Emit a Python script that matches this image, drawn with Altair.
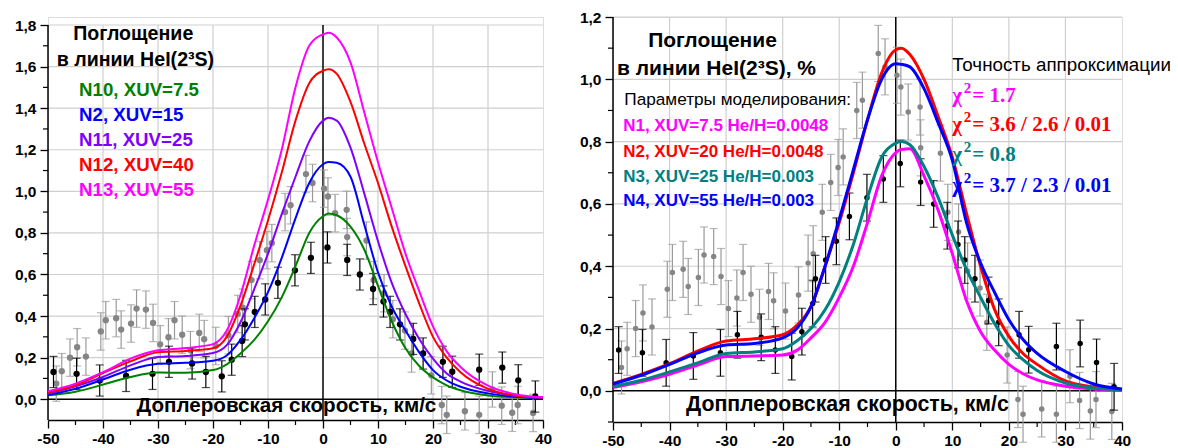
import altair as alt
import pandas as pd

# ------------------------------------------------------------------ data
curve_x = [-50, -45, -40, -35, -30, -25, -20, -17.5, -15, -12.5, -10, -7.5, -5, -2.5,
           0, 1, 2.5, 5, 7.5, 10, 12.5, 15, 17.5, 20, 22.5, 25, 30, 35, 40]

# left panel models
left_names = ["N10, XUV=7.5", "N2, XUV=15", "N11, XUV=25", "N12, XUV=40", "N13, XUV=55"]
left_colors = ["#008000", "#0000ff", "#8000ff", "#ff0000", "#ff00ff"]
left_n10 = [0.019, 0.036, 0.070, 0.107, 0.128, 0.127, 0.140, 0.168, 0.220, 0.285, 0.375, 0.490, 0.640, 0.800,
            0.880, 0.893, 0.885, 0.830, 0.720, 0.545, 0.375, 0.245, 0.160, 0.105, 0.067, 0.043, 0.018, 0.009, 0.006]
left_n2 = [0.020, 0.050, 0.095, 0.142, 0.170, 0.175, 0.185, 0.210, 0.285, 0.390, 0.515, 0.680, 0.870, 1.040,
           1.130, 1.141, 1.137, 1.070, 0.840, 0.610, 0.445, 0.330, 0.225, 0.140, 0.090, 0.060, 0.028, 0.012, 0.006]
left_n11 = [0.027, 0.062, 0.107, 0.163, 0.203, 0.208, 0.222, 0.260, 0.370, 0.530, 0.700, 0.890, 1.070, 1.240,
            1.340, 1.354, 1.340, 1.210, 0.990, 0.760, 0.560, 0.410, 0.290, 0.195, 0.124, 0.085, 0.040, 0.016, 0.007]
left_n12 = [0.032, 0.067, 0.126, 0.182, 0.226, 0.232, 0.245, 0.300, 0.450, 0.650, 0.860, 1.090, 1.340, 1.520,
            1.580, 1.587, 1.565, 1.430, 1.230, 1.040, 0.830, 0.640, 0.460, 0.300, 0.200, 0.130, 0.050, 0.018, 0.008]
left_n13 = [0.038, 0.075, 0.130, 0.195, 0.235, 0.246, 0.265, 0.330, 0.500, 0.740, 0.960, 1.200, 1.500, 1.700,
            1.755, 1.763, 1.740, 1.620, 1.380, 1.140, 0.920, 0.700, 0.520, 0.350, 0.230, 0.155, 0.065, 0.024, 0.009]
left_series = [left_n10, left_n2, left_n11, left_n12, left_n13]

# right panel models
right_names = ["N1, XUV=7.5 He/H=0.0048", "N2, XUV=20 He/H=0.0048",
               "N3, XUV=25 He/H=0.003", "N4, XUV=55 He/H=0.003"]
right_colors = ["#ff00ff", "#ff0000", "#008080", "#0000ff"]
right_chi2 = ["= 1.7", "= 3.6 / 2.6  / 0.01", "= 0.8", "=  3.7 / 2.3 / 0.01"]
right_n1 = [0.011, 0.029, 0.053, 0.083, 0.110, 0.112, 0.115, 0.130, 0.170, 0.220, 0.300, 0.400, 0.540, 0.690,
            0.765, 0.775, 0.777, 0.690, 0.580, 0.440, 0.290, 0.190, 0.130, 0.085, 0.055, 0.035, 0.015, 0.006, 0.002]
right_n2 = [0.024, 0.053, 0.087, 0.128, 0.160, 0.167, 0.180, 0.210, 0.270, 0.400, 0.540, 0.700, 0.870, 1.020,
            1.095, 1.100, 1.080, 1.000, 0.880, 0.750, 0.570, 0.400, 0.260, 0.175, 0.120, 0.085, 0.032, 0.012, 0.004]
right_n3 = [0.014, 0.034, 0.061, 0.090, 0.120, 0.125, 0.135, 0.160, 0.200, 0.260, 0.350, 0.470, 0.620, 0.750,
            0.795, 0.800, 0.790, 0.720, 0.620, 0.500, 0.390, 0.300, 0.215, 0.145, 0.100, 0.065, 0.025, 0.009, 0.003]
right_n4 = [0.022, 0.050, 0.085, 0.122, 0.147, 0.152, 0.170, 0.200, 0.270, 0.400, 0.550, 0.710, 0.870, 1.000,
            1.050, 1.048, 1.040, 0.970, 0.860, 0.740, 0.540, 0.410, 0.315, 0.228, 0.165, 0.120, 0.062, 0.022, 0.006]
right_series = [right_n1, right_n2, right_n3, right_n4]

# observations (gray set)
gray_x = [-48.5, -47.5, -46.0, -44.7, -43.1, -40.4, -39.5, -37.6, -36.7, -34.9, -33.9, -32.2, -30.9,
          -29.6, -28.1, -27.0, -25.6, -24.1, -22.5, -21.6, -19.5, -17.2, -15.5, -14.6, -13.0, -11.5,
          -10.2, -9.3, -6.9, -5.9, -3.1, -1.9, 0.2, 0.9, 2.2, 4.3, 4.4, 7.9, 9.2, 11.1, 12.7, 14.9,
          16.1, 19.7, 21.6, 22.5, 25.8, 28.4, 30.8, 32.5, 34.4, 35.4, 38.2]
gray_y = [0.075, 0.135, 0.200, 0.250, 0.205, 0.326, 0.380, 0.390, 0.335, 0.364, 0.436, 0.431, 0.367,
          0.264, 0.298, 0.380, 0.310, 0.236, 0.319, 0.289, 0.256, 0.308, 0.410, 0.440, 0.573, 0.669,
          0.717, 0.751, 0.900, 0.933, 1.083, 1.040, 1.013, 0.975, 0.895, 0.911, 0.780, 0.763, 0.573,
          0.510, 0.385, 0.330, 0.220, 0.115, -0.028, -0.075, -0.058, -0.075, 0.047, -0.031, -0.065,
          -0.028, -0.066]
gray_err = [0.085, 0.085, 0.09, 0.09, 0.09, 0.09, 0.09, 0.09, 0.09, 0.09, 0.09, 0.09, 0.09,
            0.09, 0.09, 0.09, 0.09, 0.09, 0.09, 0.09, 0.09, 0.09, 0.09, 0.09, 0.09, 0.09,
            0.09, 0.09, 0.09, 0.09, 0.09, 0.09, 0.09, 0.09, 0.09, 0.09, 0.09, 0.09, 0.09,
            0.09, 0.09, 0.09, 0.09, 0.09, 0.09, 0.09, 0.09, 0.09, 0.085, 0.09, 0.09, 0.09, 0.09]

# observations (black set)
black_x = [-49.0, -44.8, -40.6, -35.8, -31.0, -28.0, -23.8, -21.3, -18.4, -16.6, -14.7, -14.2, -12.4,
           -10.5, -8.2, -5.1, -2.2, 0.8, 4.4, 6.7, 9.1, 11.0, 12.2, 14.0, 16.4, 18.2, 21.8, 23.5,
           28.4, 32.6, 35.5, 38.6]
black_y = [0.131, 0.122, 0.090, 0.112, 0.122, 0.180, 0.172, 0.131, 0.110, 0.190, 0.280, 0.360, 0.420,
           0.480, 0.560, 0.620, 0.680, 0.730, 0.670, 0.600, 0.530, 0.470, 0.420, 0.360, 0.290, 0.220,
           0.180, 0.132, 0.142, 0.152, 0.091, 0.013]
black_err = [0.075] * len(black_x)

x_ticks = [-50, -40, -30, -20, -10, 0, 10, 20, 30, 40]
x_minor = [-45, -35, -25, -15, -5, 5, 15, 25, 35]
left_y_ticks = [0.0, 0.2, 0.4, 0.6, 0.8, 1.0, 1.2, 1.4, 1.6, 1.8]
left_y_minor = [0.1, 0.3, 0.5, 0.7, 0.9, 1.1, 1.3, 1.5, 1.7]
right_y_ticks = [0.0, 0.2, 0.4, 0.6, 0.8, 1.0, 1.2]
right_y_minor = [-0.1, 0.1, 0.3, 0.5, 0.7, 0.9, 1.1]

SANS = "Liberation Sans"
SERIF = "Liberation Serif"
GRID = "#cfcfcf"


def curves_df(names, colors, series):
    rows = []
    for k, (n, c, s) in enumerate(zip(names, colors, series)):
        for xv, yv in zip(curve_x, s):
            rows.append({"x": xv, "y": yv, "series": n, "color": c, "order": k})
    return pd.DataFrame(rows)


obs_gray = pd.DataFrame({"x": gray_x, "y": gray_y,
                         "lo": [a - e for a, e in zip(gray_y, gray_err)],
                         "hi": [a + e for a, e in zip(gray_y, gray_err)]})
obs_black = pd.DataFrame({"x": black_x, "y": black_y,
                          "lo": [a - e for a, e in zip(black_y, black_err)],
                          "hi": [a + e for a, e in zip(black_y, black_err)]})
one = pd.DataFrame({"d": [0]})


def panel(xdom, ydom, ytop, width, height, ymajor, yminor, names, colors, series,
          lw, psize, texts):
    xs = alt.Scale(domain=xdom, nice=False, zero=False)
    ys = alt.Scale(domain=ydom, nice=False, zero=False)
    xaxis = alt.Axis(values=x_ticks, labelExpr="datum.value + ''", labelFont=SANS,
                     labelFontWeight="bold", labelFontSize=15.5, labelColor="black",
                     tickSize=8, tickColor="black", tickWidth=1.3, domainColor="black",
                     domainWidth=1.5, labelPadding=3, grid=False, title=None, labelFlush=False)
    yaxis = alt.Axis(values=ymajor, labelExpr="replace(format(datum.value, '.1f'), '.', ',')",
                     labelFont=SANS, labelFontWeight="bold", labelFontSize=15.5,
                     labelColor="black", tickSize=8, tickColor="black", tickWidth=1.3,
                     domain=False, labelPadding=4, grid=False, title=None)

    def X(f):
        return alt.X(f, type="quantitative", scale=xs, axis=xaxis)

    def Y(f):
        return alt.Y(f, type="quantitative", scale=ys, axis=yaxis)

    def XD(v):
        return alt.XDatum(v, type="quantitative", scale=xs, axis=xaxis)

    def YD(v):
        return alt.YDatum(v, type="quantitative", scale=ys, axis=yaxis)

    layers = []
    # grid
    vg = pd.DataFrame({"g": [v for v in x_ticks if xdom[0] < v < xdom[1] and v != 0]})
    layers.append(alt.Chart(vg).mark_rule(color=GRID, strokeWidth=1.2).encode(
        x=X("g"), y=YD(ydom[0]), y2=alt.Y2Datum(ytop)))
    hg = pd.DataFrame({"g": [v for v in ymajor if v != 0]})
    layers.append(alt.Chart(hg).mark_rule(color=GRID, strokeWidth=1.2).encode(
        y=Y("g"), x=XD(xdom[0]), x2=alt.X2Datum(xdom[1])))
    # minor ticks
    layers.append(alt.Chart(pd.DataFrame({"m": yminor})).mark_rule(color="black", strokeWidth=1.2).encode(
        y=Y("m"), x=alt.value(-5), x2=alt.value(0)))
    layers.append(alt.Chart(pd.DataFrame({"m": x_minor})).mark_rule(color="black", strokeWidth=1.2).encode(
        x=X("m"), y=alt.value(height), y2=alt.value(height + 5)))
    # y axis line, zero lines
    layers.append(alt.Chart(one).mark_rule(color="black", strokeWidth=1.5).encode(
        x=XD(xdom[0]), y=YD(ydom[0]), y2=alt.Y2Datum(ytop)))
    layers.append(alt.Chart(one).mark_rule(color="black", strokeWidth=1.5).encode(
        x=XD(0), y=YD(ydom[0]), y2=alt.Y2Datum(ytop)))
    layers.append(alt.Chart(one).mark_rule(color="black", strokeWidth=1.5).encode(
        y=YD(0), x=XD(xdom[0]), x2=alt.X2Datum(xdom[1])))
    # observations
    for df, col, ecol in [(obs_gray, "#858585", "#9a9a9a"), (obs_black, "black", "black")]:
        base = alt.Chart(df)
        layers.append(base.mark_rule(color=ecol, strokeWidth=1.2).encode(
            x=X("x"), y=Y("lo"), y2="hi"))
        layers.append(base.mark_tick(color=ecol, orient="horizontal", size=8, thickness=1.2).encode(
            x=X("x"), y=Y("lo")))
        layers.append(base.mark_tick(color=ecol, orient="horizontal", size=8, thickness=1.2).encode(
            x=X("x"), y=Y("hi")))
        layers.append(base.mark_circle(color=col, opacity=1, size=psize).encode(
            x=X("x"), y=Y("y")))
    # model curves
    cdf = curves_df(names, colors, series)
    for k in range(len(names)):
        layers.append(alt.Chart(cdf[cdf["order"] == k]).mark_line(
            strokeWidth=lw, interpolate="monotone", color=colors[k]).encode(
            x=X("x"), y=Y("y")))
    # annotations
    for t in texts:
        tx, ty, s, size, color, weight, font, align = t[:8]
        dx, dy = (t[8], t[9]) if len(t) > 8 else (0, 0)
        layers.append(alt.Chart(one).mark_text(
            text=s, fontSize=size, color=color, fontWeight=weight, font=font,
            align=align, baseline="alphabetic", dx=dx, dy=dy).encode(x=XD(tx), y=YD(ty)))
    return alt.layer(*layers).properties(width=width, height=height)


# ------------------------------------------------------------------ left panel
left_texts = [
    (-34.5, 1.729, "Поглощение", 19.6, "black", "bold", SANS, "center"),
    (-34.1, 1.604, "в линии HeI(2³S)", 19.6, "black", "bold", SANS, "center"),
    (-33.9, -0.0625, "Доплеровская скорость, км/с", 20.6, "black", "bold", SANS, "left"),
]
for i, (n, c) in enumerate(zip(left_names, left_colors)):
    left_texts.append((-44.36, 1.457 - i * 0.12, n, 18.7, c, "bold", SANS, "left"))

left = panel([-50, 40], [-0.1, 1.8385], 1.8, 495, 403, left_y_ticks, left_y_minor,
             left_names, left_colors, left_series, 2, 40, left_texts)

# ------------------------------------------------------------------ right panel
right_texts = [
    (-32.4, 1.1035, "Поглощение", 21, "black", "bold", SANS, "center"),
    (-31.7, 1.0128, "в линии HeI(2³S), %", 21, "black", "bold", SANS, "center"),
    (-48.0, 0.917, "Параметры моделирования:", 17.2, "black", "normal", SANS, "left"),
    (10.0, 1.027, "Точность аппроксимации", 18.8, "black", "normal", SANS, "left"),
    (-37.1, -0.064, "Допплеровская скорость, км/с", 21.3, "black", "bold", SANS, "left"),
]
r_leg_y = [0.834, 0.752, 0.669, 0.594]
chi_y = [0.9285, 0.834, 0.738, 0.639]
for i, (n, c) in enumerate(zip(right_names, right_colors)):
    right_texts.append((-48.2, r_leg_y[i], n, 17, c, "bold", SANS, "left"))
    right_texts.append((10.0, chi_y[i], "χ", 21, c, "bold", SERIF, "left"))
    right_texts.append((10.0, chi_y[i], "2", 15, c, "bold", SERIF, "left", 11.5, -9))
    right_texts.append((10.0, chi_y[i], right_chi2[i], 21, c, "bold", SERIF, "left", 20, 0))

right = panel([-50, 40], [-0.1, 1.2], 1.2, 509, 405, right_y_ticks, right_y_minor,
              right_names, right_colors, right_series, 3, 30, right_texts)

chart = alt.hconcat(left, right, spacing=70, bounds="flush").properties(
    padding={"left": 13, "top": 9, "right": 0, "bottom": 0}
).configure_view(stroke=None).configure(background="white")

chart.save("out.html", embed_options={"renderer": "svg", "actions": False})
